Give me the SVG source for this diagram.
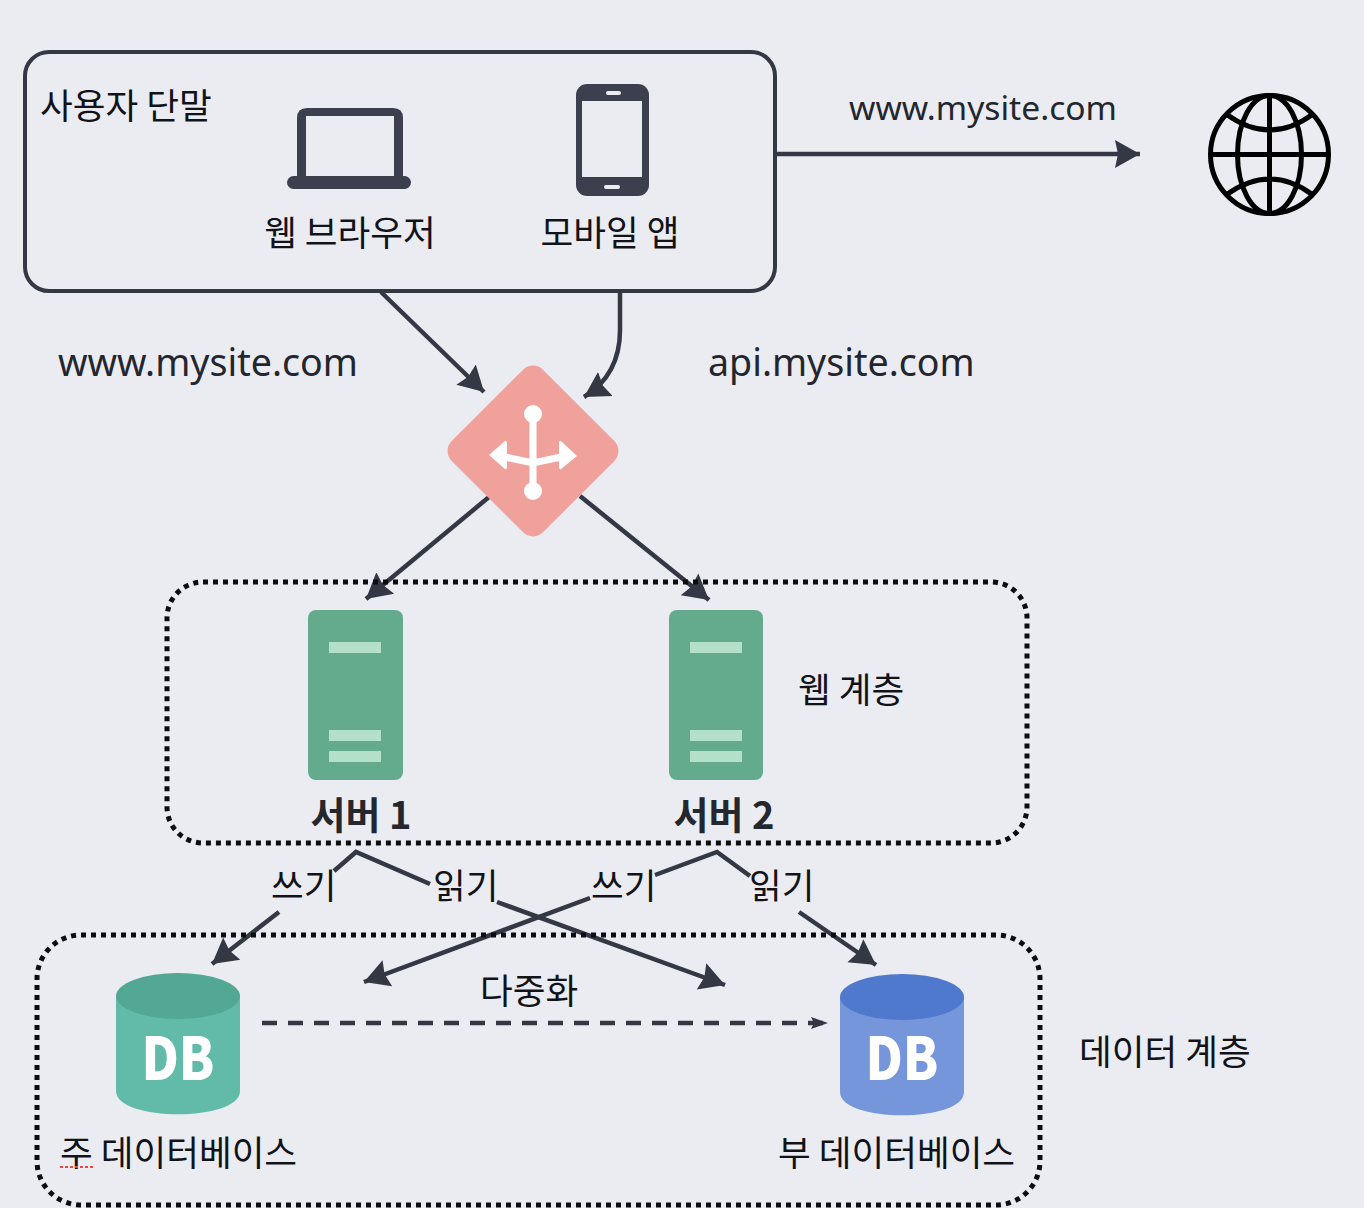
<svg xmlns="http://www.w3.org/2000/svg" width="1364" height="1208" viewBox="0 0 1364 1208">
<style>
text{font-family:"Noto Sans CJK KR","Noto Sans",sans-serif;fill:#111318}
.t{font-size:35.600px}
.u{font-family:"Noto Sans","Noto Sans CJK KR",sans-serif;font-size:37.600px;fill:#23262e}
.l{fill:none;stroke:#343845;stroke-width:4.500}
.tier{fill:none;stroke:#0c0d10;stroke-width:5;stroke-dasharray:5 5}
.db{font-family:"Noto Sans CJK KR",sans-serif;font-weight:900;font-size:59px;fill:#fff;text-anchor:middle}
.bar{fill:#b4e0ca}
.g{fill:none;stroke:#000;stroke-width:5}
</style>
<defs>
<marker id="a" markerUnits="userSpaceOnUse" markerWidth="30" markerHeight="30" refX="25" refY="15" orient="auto"><path d="M0 1L25 15L0 29L3 15Z" fill="#343845"/></marker>
<marker id="b" markerUnits="userSpaceOnUse" markerWidth="20" markerHeight="16" refX="17" refY="8" orient="auto"><path d="M0 2L17 8L0 14L3 8Z" fill="#343845"/></marker>
</defs>
<rect width="1364" height="1208" fill="#ebecf1"/>
<g id="connectors">
<path class="l" d="M776 154H1140" marker-end="url(#a)"/>
<path class="l" d="M381 292L484 392" marker-end="url(#a)"/>
<path class="l" d="M620 292V330Q620 375 584 397" marker-end="url(#a)"/>
<path class="l" d="M489 497L366 599" marker-end="url(#a)"/>
<path class="l" d="M580 496L709 600" marker-end="url(#a)"/>
<path class="l" d="M334 871L356 852L430 884"/>
<path class="l" d="M279 912L212 964" marker-end="url(#a)"/>
<path class="l" d="M497 902L725 985" marker-end="url(#a)"/>
<path class="l" d="M655 875L717 852L750 876"/>
<path class="l" d="M590 898L364 982" marker-end="url(#a)"/>
<path class="l" d="M799 912L876 965" marker-end="url(#a)"/>
<path class="l" d="M262 1023H828" stroke-dasharray="15 11" stroke-width="4" marker-end="url(#b)"/>
</g>
<g id="client-tier">
<rect x="25" y="52" width="750" height="239" rx="24" fill="none" stroke="#343845" stroke-width="4"/>
<text class="t" x="40" y="119">사용자 단말</text>
</g>
<g id="web-browser">
<path d="M297 178V118Q297 108 307 108H393Q403 108 403 118V178Z" fill="#3c404e"/>
<rect x="287" y="176" width="124" height="13" rx="6.500" fill="#3c404e"/>
<rect x="306" y="116" width="88" height="60" fill="#ebecf1"/>
<text class="t" x="350" y="246" text-anchor="middle">웹 브라우저</text>
</g>
<g id="mobile-app">
<rect x="576" y="84" width="73" height="112" rx="11" fill="#3c404e"/>
<rect x="582" y="101" width="60" height="76" fill="#ebecf1"/>
<rect x="606" y="91" width="15" height="4" rx="2" fill="#ebecf1"/>
<rect x="604" y="185" width="16" height="4" rx="2" fill="#ebecf1"/>
<text class="t" x="610" y="246" text-anchor="middle">모바일 앱</text>
</g>
<g id="internet">
<circle class="g" cx="1269.500" cy="154.500" r="59"/>
<ellipse class="g" cx="1269.500" cy="154.500" rx="32" ry="59"/>
<path class="g" d="M1269.500 95V214M1210 154.500H1329M1226 114Q1270 146 1313 114M1226 195Q1270 163 1313 195"/>
</g>
<g id="load-balancer">
<rect x="468.500" y="386.500" width="129" height="129" rx="14" transform="rotate(45 533 451)" fill="#f0a19b"/>
<g fill="none" stroke="#fff" stroke-width="7"><path d="M533 414V491M500 456L533 463L566 456"/></g>
<g fill="#fff"><circle cx="533" cy="414" r="9"/><circle cx="533" cy="491" r="9"/><path d="M489 455L505 441Q507 440 507 443V467Q507 470 505 469Z"/><path d="M577 456L561 441Q559 440 559 443V467Q559 470 561 469Z"/></g>
</g>
<text class="u" x="58" y="376">www.mysite.com</text>
<text class="u" x="708" y="376">api.mysite.com</text>
<text class="u" x="849" y="120" style="font-size:33.600px">www.mysite.com</text>
<g id="web-tier"><rect class="tier" x="167" y="582" width="860" height="261" rx="36"/>
<text class="t" x="798" y="703">웹 계층</text></g>
<g id="server-1">
<rect x="308" y="610" width="95" height="170" rx="8" fill="#63ab8c"/>
<rect class="bar" x="329" y="642" width="52" height="11"/><rect class="bar" x="329" y="730" width="52" height="11"/><rect class="bar" x="329" y="751" width="52" height="11"/>
<text x="361" y="829" text-anchor="middle" style="font-size:38px;font-weight:700;fill:#24272e">서버 1</text>
</g>
<g id="server-2">
<rect x="669" y="610" width="94" height="170" rx="8" fill="#63ab8c"/>
<rect class="bar" x="690" y="642" width="52" height="11"/><rect class="bar" x="690" y="730" width="52" height="11"/><rect class="bar" x="690" y="751" width="52" height="11"/>
<text x="724" y="829" text-anchor="middle" style="font-size:38px;font-weight:700;fill:#24272e">서버 2</text>
</g>
<text class="t" x="271" y="899">쓰기</text>
<text class="t" x="433" y="899">읽기</text>
<text class="t" x="591" y="899">쓰기</text>
<text class="t" x="749" y="899">읽기</text>
<text class="t" x="480" y="1004">다중화</text>
<g id="data-tier"><rect class="tier" x="37" y="935" width="1003" height="270" rx="44"/>
<text class="t" x="1079" y="1065">데이터 계층</text></g>
<g id="primary-db">
<path d="M116 996V1091C116 1122 240 1122 240 1091V996Z" fill="#62baa8"/>
<ellipse cx="178" cy="996" rx="62" ry="23" fill="#52a893"/>
<text class="db" x="178" y="1080" textLength="73" lengthAdjust="spacingAndGlyphs">DB</text>
<text class="t" x="60" y="1166">주 데이터베이스</text>
<path d="M60 1167H94" stroke="#e8483f" stroke-width="2" stroke-dasharray="3 2"/>
</g>
<g id="replica-db">
<path d="M840 997V1092C840 1123 964 1123 964 1092V997Z" fill="#7596db"/>
<ellipse cx="902" cy="997" rx="62" ry="23" fill="#4f79cd"/>
<text class="db" x="902" y="1080" textLength="73" lengthAdjust="spacingAndGlyphs">DB</text>
<text class="t" x="778" y="1166">부 데이터베이스</text>
</g>
</svg>
